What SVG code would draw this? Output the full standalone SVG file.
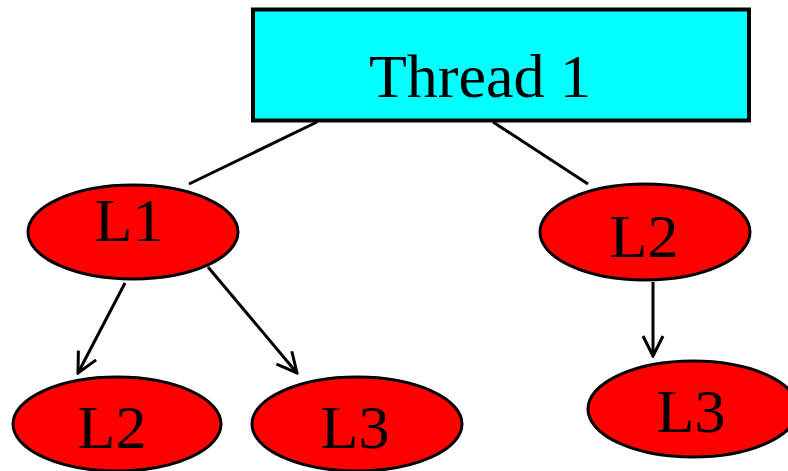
<svg xmlns="http://www.w3.org/2000/svg" width="788" height="471" viewBox="0 0 788 471">
<style>
.node ellipse{fill:#ff0000;stroke:#000;stroke-width:3}
.lbl{font-family:"Liberation Serif","Times New Roman",serif;font-size:62px;fill:#000;text-anchor:middle}
.edge{stroke:#000;stroke-width:3;fill:none}
</style>
<defs>
<marker id="arr" viewBox="0 0 24 24" refX="22" refY="12" markerWidth="24" markerHeight="24" markerUnits="userSpaceOnUse" orient="auto">
<path d="M2,2 L22,12 L2,22" fill="none" stroke="#000" stroke-width="3"/>
</marker>
</defs>
<g id="connectors">
<line class="edge" x1="317" y1="122" x2="189" y2="184"/>
<line class="edge" x1="493" y1="122" x2="588" y2="184"/>
<line class="edge" x1="125" y1="283" x2="78" y2="373" marker-end="url(#arr)"/>
<line class="edge" x1="208" y1="267" x2="297" y2="373" marker-end="url(#arr)"/>
<line class="edge" x1="653" y1="282" x2="653" y2="356" marker-end="url(#arr)"/>
</g>
<g id="thread1">
<rect x="253" y="9.5" width="496" height="111" fill="#00ffff" stroke="#000" stroke-width="4"/>
<text class="lbl" x="480" y="97">Thread 1</text>
</g>
<g id="l1" class="node">
<ellipse cx="133" cy="232" rx="105" ry="47"/>
<text class="lbl" x="129" y="241">L1</text>
</g>
<g id="l2a" class="node">
<ellipse cx="645" cy="232" rx="105" ry="48"/>
<text class="lbl" x="644" y="257">L2</text>
</g>
<g id="l2b" class="node">
<ellipse cx="117" cy="424" rx="104" ry="47"/>
<text class="lbl" x="112" y="448">L2</text>
</g>
<g id="l3a" class="node">
<ellipse cx="357" cy="424" rx="105" ry="47"/>
<text class="lbl" x="355" y="448">L3</text>
</g>
<g id="l3b" class="node">
<ellipse cx="693" cy="409" rx="105" ry="48"/>
<text class="lbl" x="691" y="432">L3</text>
</g>
</svg>
